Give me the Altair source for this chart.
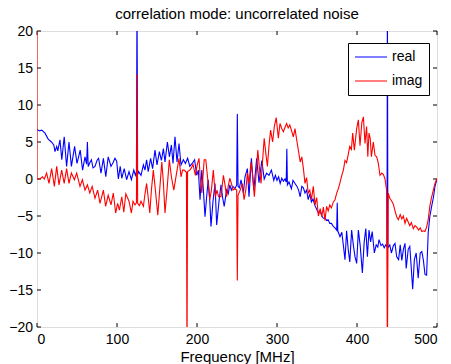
import altair as alt
import pandas as pd

# ---------------- data ----------------
series_names = ["real", "imag"]
series_colors = ["#0000ff", "#ff0000"]

real_f = [0, 3, 6, 10, 14, 18, 21, 22.5, 24.6, 26, 28.7, 31, 34, 37, 40, 43, 47, 50, 54, 57,
          60, 62, 63, 64, 66, 68, 70, 72.5, 75, 77, 80, 83, 86, 89, 92.5, 95, 97.5, 99.6, 101.7, 104,
          106, 109, 112, 115, 118, 121, 123, 124.3, 125, 125.8, 127, 130, 133, 135, 137, 139, 142, 144.5, 147.5, 150,
          153, 155.5, 158, 160, 163, 165.5, 168, 170, 172.5, 175, 177.5, 180, 183, 185.5, 188.3, 191, 194, 197, 199.6, 201.7,
          203.8, 206, 208, 210, 212, 214, 216, 217.5, 220, 222.5, 224.6, 227.5, 230, 232, 234, 237, 239, 241, 243, 245,
          247.5, 249.6, 250.4, 251.3, 253, 255, 258, 260, 263, 265, 268, 271, 274.6, 277.5, 281, 284, 287, 290, 293, 296,
          298, 300, 302, 304, 306, 308, 310, 311.5, 312.3, 313, 315, 318, 320, 322.5, 325, 327, 329, 331, 333, 335,
          337, 339, 341, 343, 345, 347.5, 350, 352, 354, 356, 358, 360, 362, 364, 366, 368, 370.4, 372.5, 374.6, 375.3,
          376, 378.75, 381, 383, 385, 387, 389, 391, 393.3, 395.5, 397.5, 399.6, 401.7, 404, 406.7, 409, 411, 413, 415, 417,
          419, 421.7, 424, 426, 427.5, 430, 432, 434, 436, 437.5, 438, 438.6, 441, 443, 445.5, 447.5, 449.6, 452, 454, 456,
          458, 460, 461.5, 464, 466, 468, 469.6, 471.7, 474, 476.5, 479, 481, 483, 485, 487, 489, 491, 493.3, 495.5, 497.5, 500]
real_v = [6.7, 6.5, 6.6, 6.2, 5.4, 5.0, 4.6, 3.7, 4.4, 3.8, 5.3, 2.6, 5.7, 1.7, 5.0, 1.7, 4.4, 2.1, 3.9, 1.2,
          3.0, 2.0, 5.0, 1.7, 2.2, 2.6, 1.5, 1.7, 2.5, 2.8, 0.8, 2.8, 0.3, 3.0, 1.7, 2.2, 2.8, 2.4, 0.0, 1.7,
          0.1, 1.4, -0.1, 1.0, -0.1, 1.2, 0.5, 1.0, 25, 0.6, 1.0, 0.5, 1.9, 1.2, 2.6, 1.0, 2.8, 1.4, 3.9, 1.9,
          3.7, 2.5, 4.1, 2.3, 5.0, 3.0, 4.6, 2.1, 5.7, 2.3, 4.8, 1.9, 2.6, 2.1, 2.8, 1.7, 2.1, 2.6, 0.5, 1.2,
          -2.8, 1.2, -1.5, -5.1, -2.5, -0.1, -3.0, -6.4, -3.0, -0.6, -6.2, -3.0, -0.8, -2.5, -3.7, -1.5, -2.0, -0.8, -1.5, -1.0,
          -1.3, -0.8, 8.8, -1.0, -1.2, -0.1, -1.9, 0.3, 1.4, -2.4, 2.8, -1.5, 2.8, -0.5, 2.5, 0.0, 0.8, 0.5, 1.2, -0.2,
          0.5, -0.2, 0.3, -0.6, 0.1, -0.3, 0.0, -0.4, 4.1, -0.8, -0.4, -1.3, -0.2, -0.6, -1.0, -1.5, -2.4, -1.0, -1.2, -1.9,
          -1.5, -2.8, -2.0, -3.1, -2.7, -3.6, -4.2, -4.6, -4.3, -5.0, -5.3, -5.3, -5.6, -5.5, -6.0, -6.0, -6.4, -6.6, -6.9, -3.2,
          -7.0, -7.8, -7.2, -9.0, -10.9, -7.0, -9.5, -11.2, -6.9, -9.0, -10.5, -11.4, -6.9, -9.0, -12.7, -8.5, -6.7, -10.5, -6.9, -8.5,
          -7.1, -10.0, -8.9, -9.2, -8.2, -9.0, -8.8, -9.3, -8.9, -9.2, 25, -9.3, -8.9, -10.0, -9.0, -8.7, -10.5, -10.9, -8.9, -11.0,
          -9.5, -8.7, -12.1, -9.5, -9.1, -12.3, -14.9, -10.9, -10.0, -13.4, -10.0, -9.8, -11.0, -12.9, -13.0, -7.3, -5.1, -3.7, -2.5, -1.0, 0.0]

imag_f = [0, 0, 3.75, 6.7, 9.2, 12, 15, 18.3, 21.7, 24.6, 27.5, 30.8, 34, 37, 40, 43, 46.7, 49.6, 53.75, 56.7,
          60, 63, 66, 69, 72.5, 75.8, 78.75, 83, 85.8, 89, 92.5, 95.4, 98.3, 100.8, 103, 106, 108.5, 111, 113, 115,
          118, 120, 122.5, 124.3, 125, 125.8, 128, 130, 133, 135, 137, 139, 141, 143, 145.4, 148, 151, 153, 156, 158,
          160, 162.5, 165.4, 168, 171, 174, 177.5, 180, 182, 184, 186.8, 187.5, 188.2, 191, 193, 195, 198, 200, 202.5, 204,
          206, 209, 211, 213.5, 216, 218, 220.4, 223, 225, 227, 230, 233, 235, 237, 239, 241, 243, 245, 247.5, 249.6,
          250.4, 251.3, 254, 256.7, 258.8, 261, 263, 265, 267.5, 269.5, 271.7, 274, 276, 278, 280, 282, 284, 286, 288, 290,
          292, 294.5, 296.7, 299, 301.7, 303.7, 306, 308, 310, 312, 314, 316, 318, 320.4, 322.5, 324.6, 326.7, 329, 331, 333,
          335, 337, 339, 341, 343, 345.4, 347.5, 349.6, 351.7, 354, 356, 358, 360, 362, 364, 366, 368, 370.4, 372.5, 374.6,
          376.7, 378.75, 381, 383, 385, 387, 389, 391, 393, 394.6, 396.7, 399.6, 401.7, 403.75, 406, 408, 410, 412, 413.5, 415,
          416.5, 418, 420.4, 422.5, 424.6, 426.5, 428.75, 431, 433, 435, 437, 438, 439, 441, 443, 445.4, 447.5, 449.6, 451.7, 454,
          456, 458, 460, 462, 464, 466, 468, 470.4, 472.5, 474.6, 477, 479, 481, 483, 485, 487, 489, 491, 493, 495.4, 497.5, 500]
imag_v = [25, 0.0, 0.0, 0.3, 0.0, 0.8, -0.6, 1.4, -1.0, 1.7, -0.8, 1.2, -0.6, 1.4, -0.6, 0.8, -0.1, 0.8, -1.0, -0.1,
          -1.5, -0.8, -1.9, -1.0, -2.6, -1.5, -3.3, -1.5, -3.7, -2.2, -3.5, -1.9, -4.6, -3.3, -4.2, -2.4, -4.5, -2.0, -2.5, -3.0,
          -4.6, -3.0, -3.5, -3.2, 14.2, -3.3, -3.6, -3.0, -3.7, -2.0, -0.6, -2.5, -4.6, -1.5, 1.2, -1.5, -4.9, -2.0, 2.3, -0.5,
          -4.6, -1.5, 2.6, 0.3, -1.5, 0.5, 2.8, 0.3, 1.2, 1.2, 0.9, -25, 1.0, 1.2, 1.5, 2.0, 0.5, 1.8, 2.8, 0.3,
          -1.9, 2.6, 2.6, -0.1, -2.8, -1.5, 1.2, -2.4, -1.5, -2.4, -2.4, 0.5, -0.8, -2.4, -1.0, 0.1, -0.6, -1.5, -1.3, -1.5,
          -13.7, -2.2, -1.5, -0.6, -2.8, -1.5, 0.8, -0.6, 2.3, 0.5, -2.4, 0.8, 3.9, 1.5, -0.6, 2.5, 5.5, 3.5, 1.7, 4.5,
          6.6, 5.0, 7.1, 8.3, 5.5, 7.5, 6.8, 6.4, 7.0, 7.5, 6.9, 7.3, 6.6, 5.7, 6.8, 5.3, 3.9, 2.3, 3.0, 1.4,
          -0.6, 0.2, -1.9, -1.5, -2.8, -1.0, -3.5, -2.5, -5.0, -4.0, -5.1, -3.8, -5.6, -3.7, -4.3, -3.5, -3.9, -3.1, -2.8, -1.9,
          -1.3, -0.5, 0.5, 1.2, 2.5, 2.2, 3.3, 4.4, 4.0, 6.2, 3.9, 6.8, 8.0, 4.5, 7.6, 8.4, 4.8, 7.1, 3.0, 6.2,
          5.5, 3.0, 5.0, 3.2, 3.0, 2.2, 0.5, 0.8, 0.6, 0.0, -1.5, -25, -1.9, -2.6, -2.9, -3.4, -4.3, -5.1, -5.5, -4.8,
          -5.4, -5.0, -6.0, -5.3, -5.8, -6.3, -5.9, -6.7, -6.3, -6.5, -6.9, -6.6, -7.1, -7.0, -7.1, -6.5, -5.5, -3.7, -2.6, -1.5, -0.6, 0.1]

x_ticks = [0, 100, 200, 300, 400, 500]
y_ticks = [-20, -15, -10, -5, 0, 5, 10, 15, 20]

title_text = "correlation mode: uncorrelated noise"
x_title = "Frequency [MHz]"

# ---------------- chart ----------------
W, H = 400, 296
FONT = "Liberation Sans"

real_df = pd.DataFrame({"f": real_f, "v": real_v, "series": "real", "i": list(range(len(real_f)))})
imag_df = pd.DataFrame({"f": imag_f, "v": imag_v, "series": "imag", "i": list(range(len(imag_f)))})
xt_df = pd.DataFrame({"t": x_ticks})
yt_df = pd.DataFrame({"t": y_ticks})

xs = alt.Scale(domain=[0, 500], nice=False, zero=False)
ys = alt.Scale(domain=[-20, 20], nice=False, zero=False)

xaxis = alt.Axis(values=x_ticks, ticks=False, tickSize=0, domain=False, grid=False,
                 labelPadding=5.5, labelFontSize=14, labelColor="black", labelFont=FONT,
                 title=x_title, titleFontSize=15, titleFontWeight="normal", titleColor="black",
                 titleFont=FONT, titlePadding=2.5)
yaxis = alt.Axis(values=y_ticks, ticks=False, tickSize=0, domain=False, grid=False,
                 labelPadding=4.5, labelFontSize=14, labelColor="black", labelFont=FONT, title=None)

legend = alt.Legend(orient="none", legendX=311, legendY=12, title=None, direction="vertical",
                    strokeColor="black", fillColor="white", padding=6, symbolType="stroke",
                    symbolSize=1024, symbolStrokeWidth=1.2, clipHeight=16,
                    labelFontSize=14, labelFont=FONT,
                    labelColor="black", labelOffset=4, rowPadding=8)
color = alt.Color("series:N", scale=alt.Scale(domain=series_names, range=series_colors), legend=legend)

def line(df):
    return alt.Chart(df).mark_line(clip=True, strokeWidth=1.1).encode(
        x=alt.X("f:Q", scale=xs, axis=xaxis),
        y=alt.Y("v:Q", scale=ys, axis=yaxis),
        color=color,
        order="i:Q",
    )

tick_style = dict(color="black", strokeWidth=1)
bottom_ticks = alt.Chart(xt_df).mark_rule(**tick_style).encode(
    x=alt.X("t:Q", scale=xs, axis=xaxis), y=alt.value(H - 4), y2=alt.value(H))
top_ticks = alt.Chart(xt_df).mark_rule(**tick_style).encode(
    x=alt.X("t:Q", scale=xs, axis=xaxis), y=alt.value(0), y2=alt.value(4))
left_ticks = alt.Chart(yt_df).mark_rule(**tick_style).encode(
    y=alt.Y("t:Q", scale=ys, axis=yaxis), x=alt.value(0), x2=alt.value(4))
right_ticks = alt.Chart(yt_df).mark_rule(**tick_style).encode(
    y=alt.Y("t:Q", scale=ys, axis=yaxis), x=alt.value(W - 4), x2=alt.value(W))

chart = alt.layer(
    bottom_ticks, top_ticks, left_ticks, right_ticks, line(real_df), line(imag_df)
).properties(
    width=W, height=H,
    title=alt.TitleParams(title_text, fontSize=15, fontWeight="normal", font=FONT, color="black",
                          anchor="middle", offset=2),
    padding={"left": 37, "top": 31, "right": 14, "bottom": 37},
    autosize="none",
).configure_view(
    stroke="black", strokeWidth=1
).configure_legend(
    strokeWidth=1.5
).configure(
    font=FONT, background="white"
)

chart.save("out.html", embed_options={"renderer": "svg", "actions": False})
